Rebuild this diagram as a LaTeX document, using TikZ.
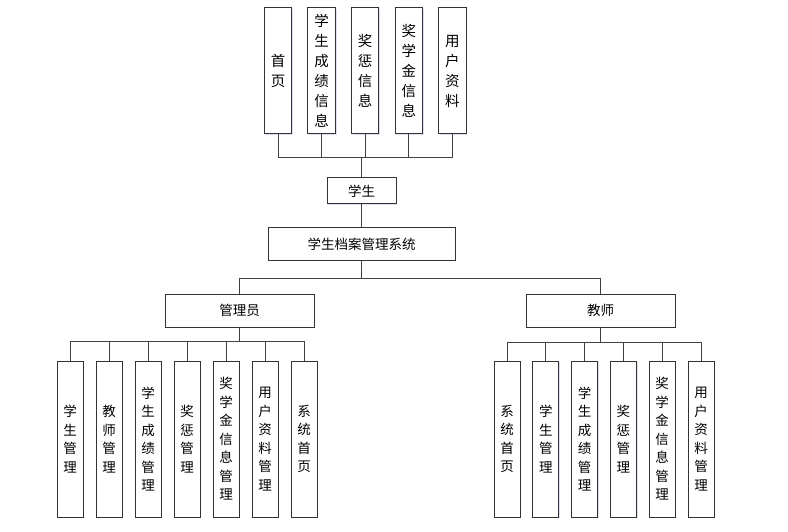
\documentclass[tikz,border=0pt]{standalone}
\usepackage{fontspec}
\setmainfont{Noto Sans CJK SC}
\usepackage{tikz}
\usetikzlibrary{shadows}

\tikzset{
	box/.style={draw=black!80, fill=white, line width=1pt, align=center, inner sep=0pt, text=black,
		drop shadow={shadow xshift=1.2pt, shadow yshift=-1.2pt, opacity=0.18, fill=blue!40!gray}},
	topbox/.style={box, minimum width=27.5pt, minimum height=126pt, font=\fontsize{14.5}{20}\selectfont},
	leaf/.style={box, minimum width=26pt, minimum height=156pt, font=\fontsize{13.5}{18.5}\selectfont},
	role/.style={box, minimum width=149pt, minimum height=33pt, font=\fontsize{13.5}{16}\selectfont},
	link/.style={draw=black!75, line width=1pt}
}

\begin{document}
\begin{tikzpicture}[x=1pt, y=-1pt]
	\useasboundingbox (0,0) rectangle (788,532);
	
	% student pages
	\node[topbox] (home) at (278,71) {首\\页};
	\node[topbox] (grade) at (321.6,71) {学\\生\\成\\绩\\信\\息};
	\node[topbox] (award) at (365.2,71) {奖\\惩\\信\\息};
	\node[topbox] (scholar) at (408.8,71) {奖\\学\\金\\信\\息};
	\node[topbox] (profile) at (452.4,71) {用\\户\\资\\料};
	
	\node[box, minimum width=69pt, minimum height=26pt, font=\fontsize{13.5}{16}\selectfont] (student) at (361.5,191) {学生};
	\node[box, minimum width=187pt, minimum height=32pt, font=\fontsize{13.5}{16}\selectfont] (system) at (361.5,244) {学生档案管理系统};
	
	\node[role] (admin) at (239.5,310.5) {管理员};
	\node[role] (teacher) at (600.5,310.5) {教师};
	
	% admin functions
	\node[leaf] (a1) at (70,439) {学\\生\\管\\理};
	\node[leaf] (a2) at (109,439) {教\\师\\管\\理};
	\node[leaf] (a3) at (148,439) {学\\生\\成\\绩\\管\\理};
	\node[leaf] (a4) at (187,439) {奖\\惩\\管\\理};
	\node[leaf] (a5) at (226,439) {奖\\学\\金\\信\\息\\管\\理};
	\node[leaf] (a6) at (265,439) {用\\户\\资\\料\\管\\理};
	\node[leaf] (a7) at (304,439) {系\\统\\首\\页};
	
	% teacher functions
	\node[leaf] (b1) at (507,439) {系\\统\\首\\页};
	\node[leaf] (b2) at (545.8,439) {学\\生\\管\\理};
	\node[leaf] (b3) at (584.6,439) {学\\生\\成\\绩\\管\\理};
	\node[leaf] (b4) at (623.4,439) {奖\\惩\\管\\理};
	\node[leaf] (b5) at (662.2,439) {奖\\学\\金\\信\\息\\管\\理};
	\node[leaf] (b6) at (701,439) {用\\户\\资\\料\\管\\理};
	
	\coordinate (topbus) at (361.5,158);
	\coordinate (sysbus) at (361.5,278);
	\coordinate (adminbus) at (239.5,341);
	\coordinate (teacherbus) at (600.5,342);
	
	\draw[link] (student.north) -- (topbus) -| (home.south);
	\draw[link] (topbus) -| (grade.south);
	\draw[link] (topbus) -| (award.south);
	\draw[link] (topbus) -| (scholar.south);
	\draw[link] (topbus) -| (profile.south);
	
	\draw[link] (student.south) -- (system.north);
	\draw[link] (system.south) -- (sysbus) -| (admin.north);
	\draw[link] (sysbus) -| (teacher.north);
	
	\draw[link] (admin.south) -- (adminbus) -| (a1.north);
	\draw[link] (adminbus) -| (a2.north);
	\draw[link] (adminbus) -| (a3.north);
	\draw[link] (adminbus) -| (a4.north);
	\draw[link] (adminbus) -| (a5.north);
	\draw[link] (adminbus) -| (a6.north);
	\draw[link] (adminbus) -| (a7.north);
	
	\draw[link] (teacher.south) -- (teacherbus) -| (b1.north);
	\draw[link] (teacherbus) -| (b2.north);
	\draw[link] (teacherbus) -| (b3.north);
	\draw[link] (teacherbus) -| (b4.north);
	\draw[link] (teacherbus) -| (b5.north);
	\draw[link] (teacherbus) -| (b6.north);
\end{tikzpicture}
\end{document}
